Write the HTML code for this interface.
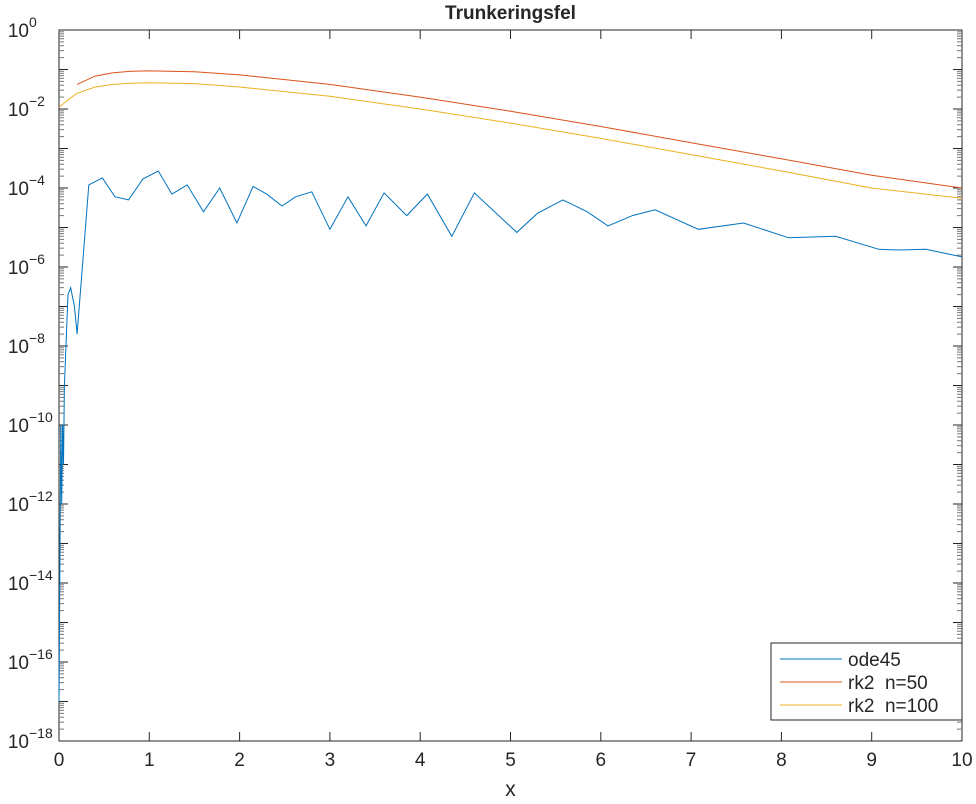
<!DOCTYPE html>
<html><head><meta charset="utf-8"><style>
body{margin:0;background:#fff;font-family:"Liberation Sans",Arial,sans-serif}
svg text{font-family:"Liberation Sans",Arial,sans-serif;fill:#262626}
</style></head><body>
<svg id="chart" width="976" height="799"></svg>
<script>
const odeX=[0,0.02,0.03,0.04,0.05,0.06,0.1,0.13,0.17,0.2,0.33,0.48,0.62,0.77,0.93,1.1,1.25,1.42,1.6,1.78,1.97,2.15,2.3,2.47,2.62,2.8,3.0,3.2,3.4,3.6,3.85,4.08,4.35,4.6,5.07,5.3,5.58,5.85,6.08,6.35,6.6,7.08,7.58,8.08,8.6,9.08,9.3,9.6,10];
const odeY=[1e-17,1e-10,1e-12,1e-10,1e-11,1e-9,2e-7,3e-7,1e-7,2e-8,1.2e-4,1.8e-4,6e-5,5e-5,1.7e-4,2.7e-4,7e-5,1.2e-4,2.5e-5,1e-4,1.3e-5,1.1e-4,7e-5,3.5e-5,6e-5,8e-5,9e-6,6e-5,1.1e-5,7.5e-5,2e-5,7e-5,6e-6,7.5e-5,7.5e-6,2.3e-5,5e-5,2.5e-5,1.1e-5,2e-5,2.8e-5,9e-6,1.3e-5,5.5e-6,6e-6,2.8e-6,2.7e-6,2.8e-6,1.8e-6];
const rk50X=[0.2,0.4,0.6,0.8,1,1.5,2,3,4,5,6,7,8,9,10];
const rk50Y=[0.042,0.068,0.083,0.090,0.092,0.088,0.073,0.042,0.02,0.0088,0.0036,0.0014,0.00055,0.00021,0.0001];
const rk100X=[0,0.1,0.2,0.4,0.6,0.8,1,1.5,2,3,4,5,6,7,8,9,10];
const rk100Y=[0.011,0.017,0.025,0.036,0.042,0.045,0.046,0.044,0.036,0.021,0.01,0.0044,0.0018,0.0007,0.00027,0.0001,5.5e-5];
const xTicks=[0,1,2,3,4,5,6,7,8,9,10];
const yTickExp=[0,-2,-4,-6,-8,-10,-12,-14,-16,-18];

const NS="http://www.w3.org/2000/svg";
const svg=document.getElementById('chart');
const L=59,R=962,T=30,B=741;
const sx=x=>L+(x-0)/10*(R-L);
const sy=v=>T+(0-Math.log10(v))/18*(B-T);
function el(tag,attrs,parent){const e=document.createElementNS(NS,tag);for(const k in attrs)e.setAttribute(k,attrs[k]);(parent||svg).appendChild(e);return e;}

const axes=el('g',{});


el('rect',{x:L,y:T,width:R-L,height:B-T,fill:'#fff',stroke:'#262626','stroke-width':1},axes);
xTicks.forEach(t=>{
  const x=sx(t);
  el('line',{x1:x,x2:x,y1:B,y2:B-9,stroke:'#262626'},axes);
  el('line',{x1:x,x2:x,y1:T,y2:T+9,stroke:'#262626'},axes);
  const tx=el('text',{x:x,y:B+25,'text-anchor':'middle','font-size':19},axes);
  tx.textContent=t;
  
  
});
for(let e=0;e>=-18;e--){
  const y=sy(Math.pow(10,e));
  el('line',{x1:L,x2:L+9,y1:y,y2:y,stroke:'#262626'},axes);
  el('line',{x1:R,x2:R-9,y1:y,y2:y,stroke:'#262626'},axes);
  if(e>-18){for(let m=2;m<10;m++){const ym=sy(m*Math.pow(10,e-1));el('line',{x1:L,x2:L+5,y1:ym,y2:ym,stroke:'#777'},axes);el('line',{x1:R,x2:R-5,y1:ym,y2:ym,stroke:'#777'},axes);}}
}
yTickExp.forEach(e=>{
  const y=sy(Math.pow(10,e));
  const tx=el('text',{x:L-30,y:y+7,'text-anchor':'end','font-size':19},axes);
  tx.textContent='10';
  
  
  const sp=el('text',{x:L-30,y:y-3,'text-anchor':'start','font-size':14},axes);
  sp.textContent=String(e).replace('-','\u2212');
});
const title=el('text',{x:(L+R)/2,y:19,'text-anchor':'middle','font-size':19,'font-weight':'bold'});
title.textContent='Trunkeringsfel';


const xl=el('text',{x:(L+R)/2,y:796,'text-anchor':'middle','font-size':21});
xl.textContent='x';



function series(xs,ys,color,name){
  const d=xs.map((x,i)=>(i?'L':'M')+sx(x).toFixed(1)+','+sy(ys[i]).toFixed(1)).join('');
  const p=el('path',{d:d,fill:'none',stroke:color,'stroke-width':1});
  
  
}
series(rk100X,rk100Y,'#EDB120','series-rk2-n100');
series(rk50X,rk50Y,'#D95319','series-rk2-n50');
series(odeX,odeY,'#0072BD','series-ode45');

const lg=el('g',{});


el('rect',{x:771,y:643,width:191,height:77,fill:'#fff',stroke:'#262626'},lg);
[['ode45','#0072BD'],['rk2  n=50','#D95319'],['rk2  n=100','#EDB120']].forEach((it,i)=>{
  const y=659+i*23;
  el('line',{x1:780,x2:842,y1:y,y2:y,stroke:it[1]},lg);
  const t=el('text',{x:848,y:y+7,'font-size':19},lg);
  t.textContent=it[0];
  
  
  t.style.whiteSpace='pre';
});
</script>
</body></html>
